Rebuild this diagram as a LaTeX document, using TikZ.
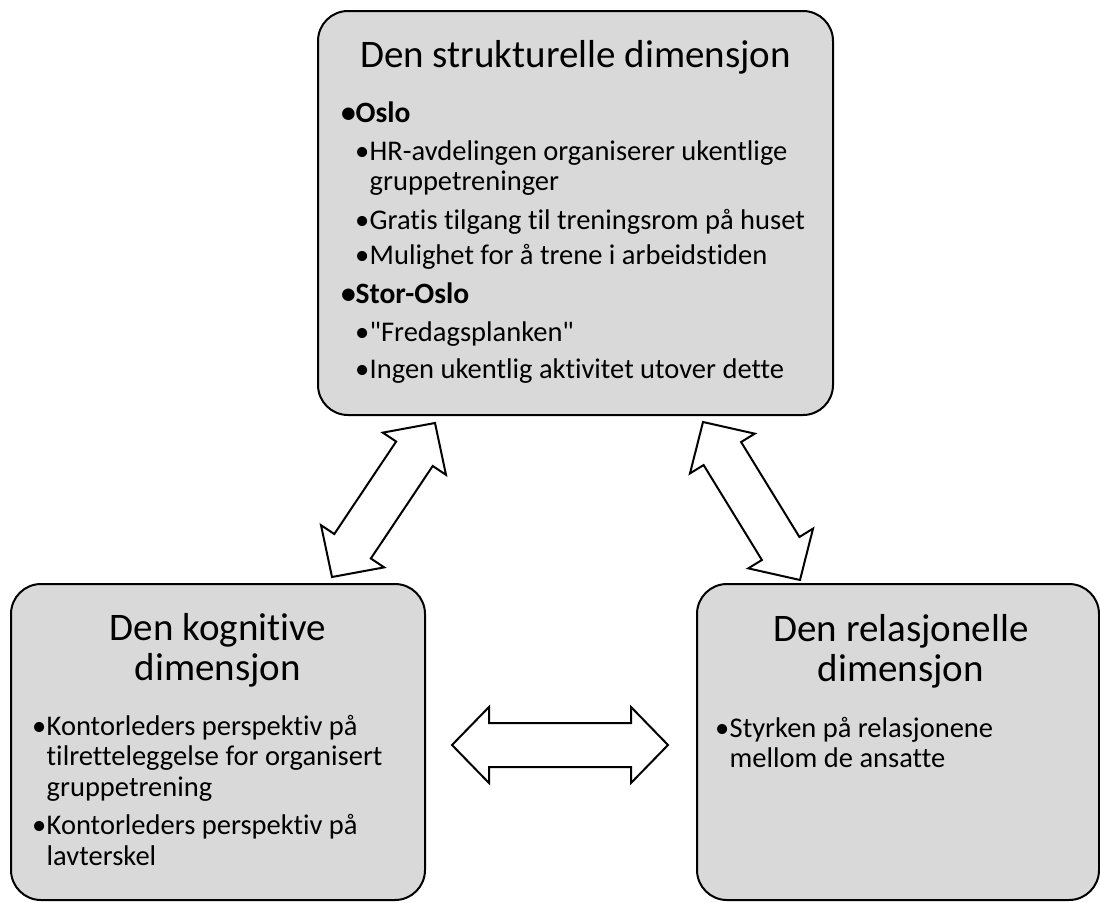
\documentclass[tikz,border=0pt]{standalone}
\usepackage{fontspec}
\setmainfont{Carlito}[Ligatures={TeX,NoCommon}]
\usetikzlibrary{calc}
\definecolor{boxgray}{HTML}{D9D9D9}

\tikzset{
  dimbox/.style={draw=black, line width=2pt, fill=boxgray, rounded corners=30pt, inner sep=0pt},
  dimtitle/.style={font=\fontsize{39}{40}\selectfont, anchor=base, inner sep=0pt},
  punkt/.style={font=\fontsize{28.5}{31}\selectfont, anchor=base west, inner sep=0pt},
  hovedpunkt/.style={font=\fontsize{29.5}{31}\selectfont\bfseries, anchor=base west, inner sep=0pt},
  blokkpil/.style={draw=black, line width=2pt, fill=white, line join=miter}
}
\newcommand\kule{\makebox[11.5pt][l]{\hspace{-3pt}\textbullet}}
% block arrow with a head at both ends
\newcommand\dobbelpil[2]{%
  \path ($(#1)!37pt!(#2)$) coordinate (h1) ($(#2)!37pt!(#1)$) coordinate (h2);
  \draw[blokkpil] (#1) -- ($(h1)!38pt!90:(#2)$) -- ($(h1)!22pt!90:(#2)$)
    -- ($(h2)!22pt!-90:(#1)$) -- ($(h2)!38pt!-90:(#1)$) -- (#2)
    -- ($(h2)!38pt!90:(#1)$) -- ($(h2)!22pt!90:(#1)$)
    -- ($(h1)!22pt!-90:(#2)$) -- ($(h1)!38pt!-90:(#2)$) -- cycle;
}

\begin{document}
\begin{tikzpicture}[x=1pt,y=-1pt]
  \useasboundingbox (0,0) rectangle (1100,902);

  % boksene
  \node[dimbox, minimum width=515pt, minimum height=404pt] (struktur) at (575.5,213) {};
  \node[dimbox, minimum width=414pt, minimum height=316pt] (kognitiv) at (218,742) {};
  \node[dimbox, minimum width=402pt, minimum height=316pt] (relasjon) at (898,742) {};

  % den strukturelle
  \node[dimtitle] (struktur-tittel) at (575.5,67.5) {Den strukturelle dimensjon};
  \node[hovedpunkt] (oslo) at (344,122) {\kule Oslo};
  \node[punkt] (hr) at (358,160) {\kule HR-avdelingen organiserer ukentlige};
  \node[punkt] (hr2) at (369.5,190.6) {gruppetreninger};
  \node[punkt] (gratis) at (358,229) {\kule Gratis tilgang til treningsrom på huset};
  \node[punkt] (mulighet) at (358,264) {\kule Mulighet for å trene i arbeidstiden};
  \node[hovedpunkt] (storoslo) at (344,303.6) {\kule Stor-Oslo};
  \node[punkt] (fredag) at (358,341.8) {\kule \textquotedbl Fredagsplanken\textquotedbl};
  \node[punkt] (ingen) at (358,378.4) {\kule Ingen ukentlig aktivitet utover dette};

  % den kognitive
  \node[dimtitle] (kognitiv-tittel1) at (218,640) {Den kognitive};
  \node[dimtitle] (kognitiv-tittel2) at (218,680) {dimensjon};
  \node[punkt] (kontor1) at (35,735) {\kule Kontorleders perspektiv på};
  \node[punkt] (kontor1b) at (46.5,765.5) {tilretteleggelse for organisert};
  \node[punkt] (kontor1c) at (46.5,796) {gruppetrening};
  \node[punkt] (kontor2) at (35,834) {\kule Kontorleders perspektiv på};
  \node[punkt] (kontor2b) at (46.5,865) {lavterskel};

  % den relasjonelle
  \node[dimtitle] (relasjon-tittel1) at (901,641) {Den relasjonelle};
  \node[dimtitle] (relasjon-tittel2) at (901,681) {dimensjon};
  \node[punkt] (styrken) at (718,737) {\kule Styrken på relasjonene};
  \node[punkt] (styrken2) at (729.5,767) {mellom de ansatte};

  % pilene
  \coordinate (pil1a) at (332,577);
  \coordinate (pil1b) at (435,423);
  \coordinate (pil2a) at (703,422);
  \coordinate (pil2b) at (800,580);
  \coordinate (pil3a) at (452,745);
  \coordinate (pil3b) at (668,745);
  \dobbelpil{pil1a}{pil1b}
  \dobbelpil{pil2a}{pil2b}
  \dobbelpil{pil3a}{pil3b}
\end{tikzpicture}
\end{document}
